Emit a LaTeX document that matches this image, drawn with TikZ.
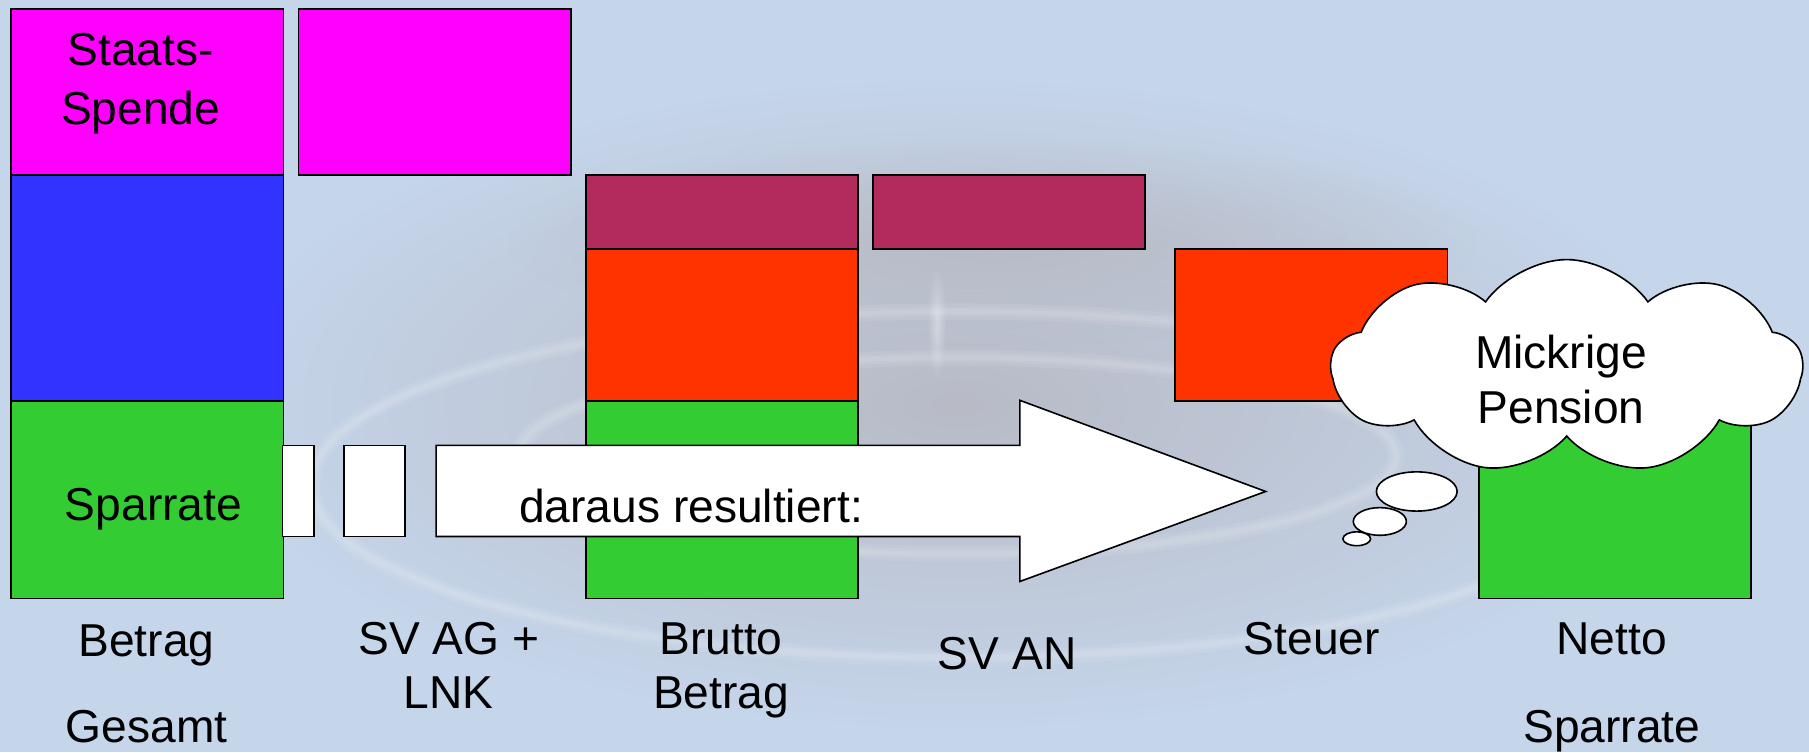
\documentclass[tikz,border=0pt]{standalone}
\usepackage{fontspec}
\setmainfont{Liberation Sans}
\usetikzlibrary{shapes.symbols,fadings}

\definecolor{bgblue}{RGB}{197,213,234}
\definecolor{bggrey}{RGB}{184,187,198}
\definecolor{cMagenta}{RGB}{255,0,255}
\definecolor{cBlue}{RGB}{51,51,255}
\definecolor{cGreen}{RGB}{51,204,51}
\definecolor{cMaroon}{RGB}{179,42,92}
\definecolor{cRed}{RGB}{255,51,0}

\tikzfading[name=softedge, inner color=transparent!0, outer color=transparent!100]

\tikzset{
  bar/.style={draw=black, line width=1.4pt, anchor=north west, inner sep=0pt,
              minimum width=236pt},
  lbl/.style={anchor=base, inner sep=0pt, font=\fontsize{40}{46}\selectfont},
  puff/.style={draw=black, fill=white, line width=1.4pt},
  blockarrow/.style={draw=black, fill=white, line width=1.4pt, line join=miter},
  ripple/.style={white, line width=#1, opacity=0.08}
}

\begin{document}
\begin{tikzpicture}[x=1pt,y=-1pt]
  % backdrop: pale blue sky with a grey water ripple in the middle
  \useasboundingbox (0,0) rectangle (1568,652);
  \fill[bgblue] (0,0) rectangle (1568,652);
  \fill[bggrey, path fading=softedge] (830,350) ellipse [x radius=640, y radius=280];
  \fill[bggrey, path fading=softedge] (860,210) ellipse [x radius=420, y radius=90];
  \foreach \w in {4,8,14} {
    \draw[ripple=\w pt] (830,420) ellipse [x radius=560, y radius=150];
    \draw[ripple=\w pt] (830,395) ellipse [x radius=380, y radius=85];
  }
  \fill[white, opacity=0.35, path fading=softedge] (812,280) ellipse [x radius=8, y radius=50];

  % Betrag Gesamt
  \node[bar, fill=cMagenta, minimum height=144pt] (gesSpende) at (9,7) {};
  \node[bar, fill=cBlue, minimum height=196pt] (gesMitte) at (9,151) {};
  \node[bar, fill=cGreen, minimum height=171pt] (gesSpar) at (9,347) {};
  % SV AG + LNK
  \node[bar, fill=cMagenta, minimum height=144pt] (svag) at (258,7) {};
  % Brutto Betrag
  \node[bar, fill=cMaroon, minimum height=64pt] (bruttoSV) at (507,151) {};
  \node[bar, fill=cRed, minimum height=132pt] (bruttoSt) at (507,215) {};
  \node[bar, fill=cGreen, minimum height=171pt] (bruttoSpar) at (507,347) {};
  % SV AN
  \node[bar, fill=cMaroon, minimum height=64pt] (svan) at (756,151) {};
  % Steuer
  \node[bar, fill=cRed, minimum height=132pt] (steuer) at (1018,215) {};
  % Netto Sparrate
  \node[bar, fill=cGreen, minimum height=171pt] (netto) at (1281,347) {};

  % striped block arrow
  \path[blockarrow] (245,386) rectangle (272,465);
  \path[blockarrow] (298,386) rectangle (351,465);
  \path[blockarrow] (378,386) -- (884,386) -- (884,347) -- (1097,426)
        -- (884,504) -- (884,465) -- (378,465) -- cycle;
  \node[lbl] (resultiert) at (599,453) {daraus resultiert:};

  % thought cloud
  \path[puff] (1176,467) ellipse [x radius=12, y radius=6];
  \path[puff] (1196,452) ellipse [x radius=23, y radius=12];
  \path[puff] (1228,426) ellipse [x radius=35, y radius=17];
  \node[cloud, puff, cloud puffs=9, cloud puff arc=110, cloud ignores aspect,
        minimum width=408pt, minimum height=186pt] (wolke) at (1358,318) {};
  \node[lbl] (mick) at (1353,319) {Mickrige};
  \node[lbl] (pens) at (1353,367) {Pension};

  % labels inside bars
  \node[lbl] (staats) at (122,57) {Staats-};
  \node[lbl] (spende) at (122,108) {Spende};
  \node[lbl] (sparrate) at (133,451) {Sparrate};

  % column captions
  \node[lbl] (c1a) at (127,569) {Betrag};
  \node[lbl] (c1b) at (127,644) {Gesamt};
  \node[lbl] (c2a) at (389,567) {SV AG +};
  \node[lbl] (c2b) at (389,614) {LNK};
  \node[lbl] (c3a) at (625,567) {Brutto};
  \node[lbl] (c3b) at (625,614) {Betrag};
  \node[lbl] (c4) at (873,580) {SV AN};
  \node[lbl] (c5) at (1137,567) {Steuer};
  \node[lbl] (c6a) at (1397,567) {Netto};
  \node[lbl] (c6b) at (1397,644) {Sparrate};
\end{tikzpicture}
\end{document}
